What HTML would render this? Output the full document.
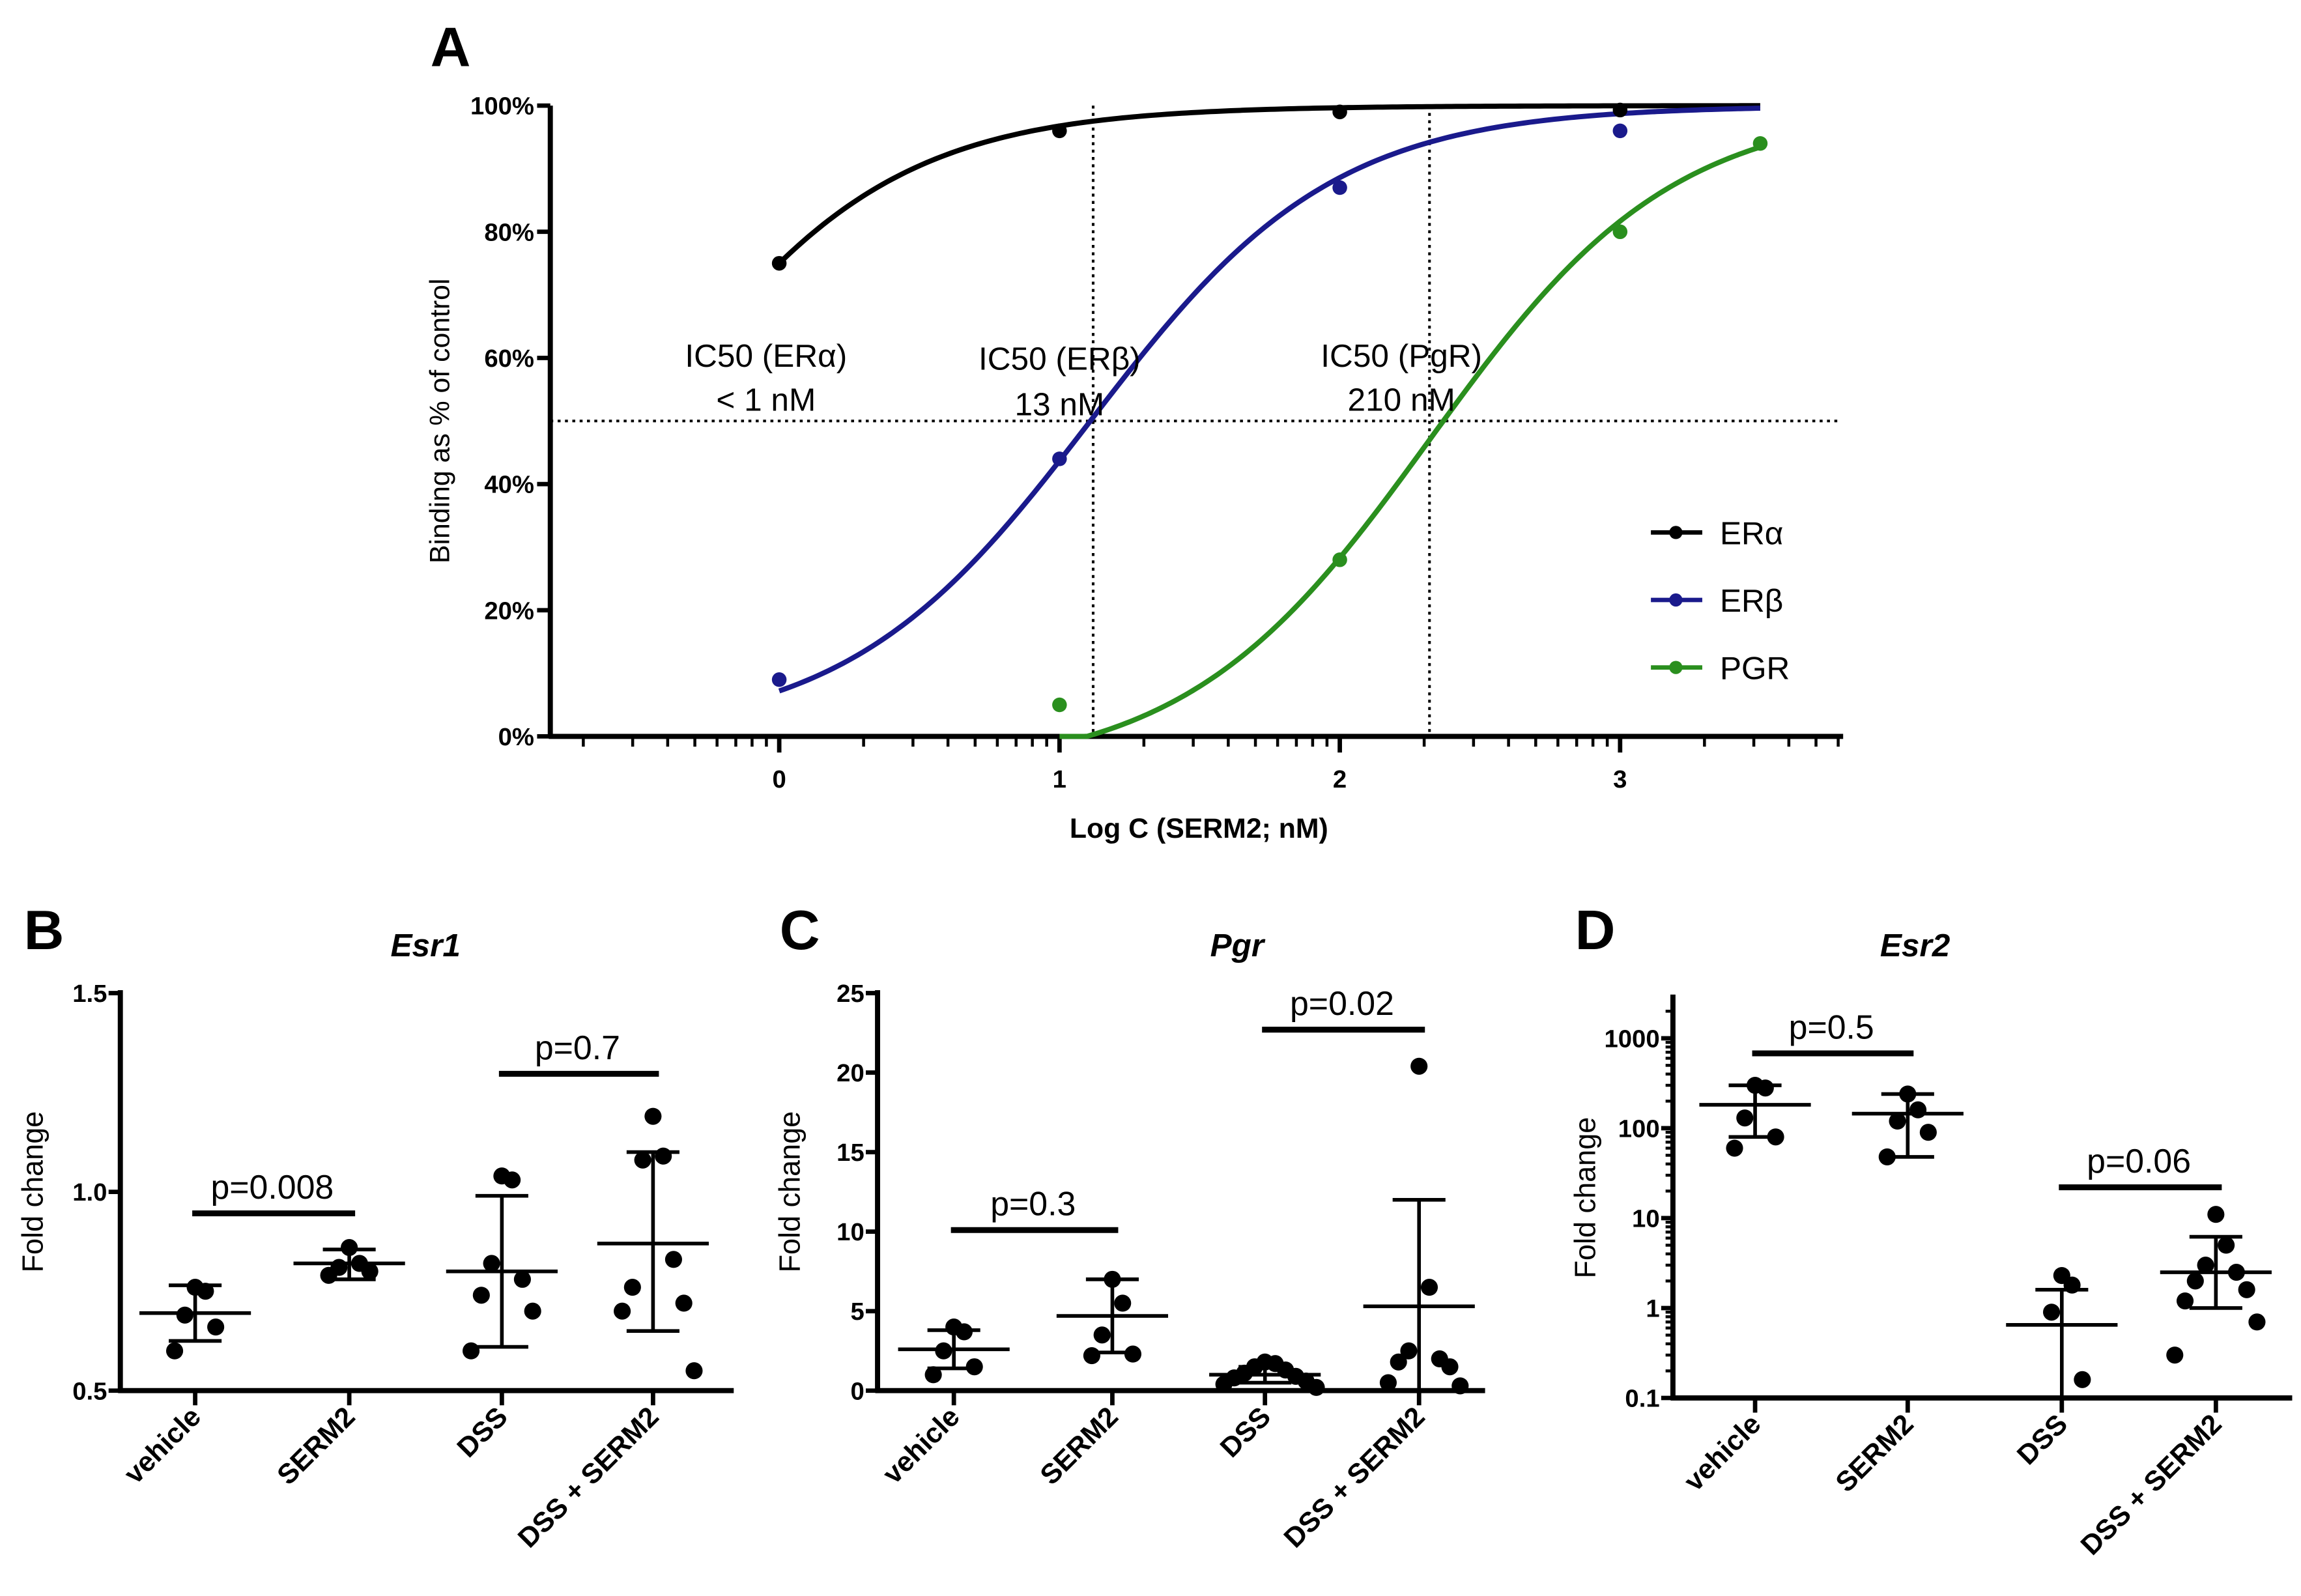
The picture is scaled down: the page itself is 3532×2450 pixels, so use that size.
<!DOCTYPE html>
<html><head><meta charset="utf-8"><style>
html,body{margin:0;padding:0;background:#fff}
svg{display:block}
text{font-family:"Liberation Sans",sans-serif}
</style></head><body>
<svg id="s" width="3532" height="2450" viewBox="0 0 1568 1088" preserveAspectRatio="none" xmlns="http://www.w3.org/2000/svg"></svg>
<script>
// ---------- Panel A data ----------
const aTicksX = [0,1,2,3];
const aTicksY = [0,20,40,60,80,100];
const aTickLabelsY = ["0%","20%","40%","60%","80%","100%"];
const eraPts = [[0,75],[1,96],[2,99],[3,99.3]];
const erbPts = [[0,9],[1,44],[2,87],[3,96]];
const pgrPts = [[1,5],[2,28],[3,80],[3.5,94]];
const eraFit = [-0.477,1,0];   // logIC50, hill, bottom
const erbFit = [1.11,1,0];
const pgrFit = [2.32,1.0,-6];
const ic50Lines = [1.12,2.32];
// ---------- Panel B ----------
const cats = ["vehicle","SERM2","DSS","DSS + SERM2"];
const bPts = [[0.76,0.75,0.69,0.66,0.60],[0.86,0.82,0.81,0.80,0.79],[1.04,1.03,0.82,0.78,0.74,0.70,0.60],[1.19,1.09,1.08,0.83,0.76,0.72,0.70,0.55]];
const bMean = [0.695,0.82,0.80,0.87];
const bSD = [[0.625,0.765],[0.78,0.855],[0.61,0.99],[0.65,1.10]];
const bP = [["p=0.008",0,1,0.946],["p=0.7",2,3,1.297]];
const bTicks = [0.5,1.0,1.5];
const bTickLabels = ["0.5","1.0","1.5"];
// ---------- Panel C ----------
const cPts = [[4.0,3.7,2.5,1.5,1.0],[7.0,5.5,3.5,2.3,2.2],[1.8,1.7,1.5,1.3,1.1,0.9,0.8,0.6,0.4,0.2],[20.4,6.5,2.5,2.0,1.8,1.5,0.5,0.3]];
const cMean = [2.6,4.7,1.0,5.3];
const cSD = [[1.4,3.8],[2.4,7.0],[0.5,1.5],[0,12]];
const cP = [["p=0.3",0,1,10.1],["p=0.02",2,3,22.7]];
const cTicks = [0,5,10,15,20,25];
const cTickLabels = ["0","5","10","15","20","25"];
// ---------- Panel D ----------
const dPts = [[300,280,130,80,60],[240,160,120,90,48],[2.3,1.8,0.9,0.16],[11,5,3,2.5,2,1.6,1.2,0.7,0.3]];
const dMean = [182,145,0.65,2.5];
const dSD = [[80,300],[48,240],[null,1.6],[1.0,6.2]];
const dP = [["p=0.5",0,1,680],["p=0.06",2,3,22]];
const dTicks = [0.1,1,10,100,1000];
const dTickLabels = ["0.1","1","10","100","1000"];

const S = document.getElementById('s');
const NS = "http://www.w3.org/2000/svg";
function mk(tag, at, parent){const e=document.createElementNS(NS,tag);for(const k in at)e.setAttribute(k,at[k]);(parent||S).appendChild(e);return e;}
function line(x1,y1,x2,y2,w,c,name,dash){const e=mk('line',{x1,y1,x2,y2,stroke:c||'#000','stroke-width':w||3});if(dash)e.setAttribute('stroke-dasharray',dash);

return e;}
function txt(x,y,s,size,name,opts){opts=opts||{};const e=mk('text',{x,y,'font-size':size,'text-anchor':opts.anchor||'middle','font-weight':opts.bold?'bold':'normal','font-style':opts.italic?'italic':'normal',fill:opts.fill||'#000'});if(opts.rot)e.setAttribute('transform',opts.rot);e.textContent=s;

return e;}
function dot(x,y,r,c,name){const e=mk('circle',{cx:x,cy:y,r,fill:c});

return e;}

// ===== Panel A =====
const ax = v=>531+v*191, ay = v=>502-v*4.3;
txt(307,45,"A",38,"panel-a-label",{bold:1});
line(375,72,375,503,3.5,'#000','a-y-axis');
line(374,502,1256,502,3.5,'#000','a-x-axis');
aTicksY.forEach((v,i)=>{line(366,ay(v),375,ay(v),3,'#000','a-y-tick');txt(364,ay(v)+6,aTickLabelsY[i],17,'a-y-tick-label',{anchor:'end',bold:1});});
for(let n=-1;n<=3;n++){for(let k=1;k<=9;k++){const v=n+Math.log10(k);const x=ax(v);if(x<376||x>1256)continue;const major=k===1;line(x,502,x,major?513:509,major?3:2,'#000','a-x-minor-tick');}}
aTicksX.forEach(v=>txt(ax(v),537,String(v),17,'a-x-tick-label',{bold:1}));
txt(817,571,"Log C (SERM2; nM)",19,'a-x-title',{bold:1});
txt(306,287,"Binding as % of control",19,'a-y-title',{rot:'rotate(-90 306 287)'});
line(375,ay(50),1255,ay(50),1.8,'#000','ic50-horizontal',"2,3");
ic50Lines.forEach(v=>line(ax(v),72,ax(v),502,1.8,'#000','ic50-vertical',"2,3"));
function hill(f,x){return f[2]+(100-f[2])/(1+Math.pow(10,(f[0]-x)*f[1]));}
function curve(f,x0,x1,c,name){let d='';for(let i=0;i<=200;i++){const x=x0+(x1-x0)*i/200;const y=Math.max(0,hill(f,x));d+=(i?'L':'M')+ax(x).toFixed(2)+','+ay(y).toFixed(2);}const e=mk('path',{d,fill:'none',stroke:c,'stroke-width':3.5});

}
curve(eraFit,0,3.5,'#000','era-curve');
curve(erbFit,0,3.5,'#1a1a8c','erb-curve');
curve(pgrFit,1,3.5,'#2a8f1e','pgr-curve');
eraPts.forEach(p=>dot(ax(p[0]),ay(p[1]),5,'#000','era-point'));
erbPts.forEach(p=>dot(ax(p[0]),ay(p[1]),5,'#1a1a8c','erb-point'));
pgrPts.forEach(p=>dot(ax(p[0]),ay(p[1]),5,'#2a8f1e','pgr-point'));
txt(522,250,"IC50 (ERα)",22,'ic50-era-label');txt(522,280,"< 1 nM",22,'ic50-era-value');
txt(722,252,"IC50 (ERβ)",22,'ic50-erb-label');txt(722,283,"13 nM",22,'ic50-erb-value');
txt(955,250,"IC50 (PgR)",22,'ic50-pgr-label');txt(955,280,"210 nM",22,'ic50-pgr-value');
[["ERα",'#000',363],["ERβ",'#1a1a8c',409],["PGR",'#2a8f1e',455]].forEach(l=>{line(1125,l[2],1160,l[2],3,l[1],'legend-line');dot(1142,l[2],4.5,l[1],'legend-marker');txt(1172,l[2]+8,l[0],22,'legend-entry',{anchor:'start'});});

// ===== Scatter panels =====
function panel(o){
  const {x0,xEnd,top,bot,catX,yf,ticks,labels,pts,mean,sd,pv,title,letter,lx,titleX,minor}=o;
  txt(lx,647,letter,38,'panel-'+letter.toLowerCase()+'-label',{bold:1});
  txt(titleX,652,title,22,'panel-'+letter.toLowerCase()+'-title',{bold:1,italic:1});
  txt(x0-53,(top+bot)/2,"Fold change",20,'y-axis-title',{rot:`rotate(-90 ${x0-53} ${(top+bot)/2})`});
  line(x0,top-2,x0,bot+1.5,3.5,'#000','y-axis');
  line(x0-1.5,bot,xEnd,bot,3.5,'#000','x-axis');
  ticks.forEach((v,i)=>{line(x0-8,yf(v),x0,yf(v),3,'#000','y-tick');txt(x0-9,yf(v)+6,labels[i],17,'y-tick-label',{anchor:'end',bold:1});});
  if(minor)minor.forEach(v=>line(x0-5,yf(v),x0,yf(v),2,'#000','y-minor-tick'));
  catX.forEach((cx,i)=>{line(cx,bot,cx,bot+10,3,'#000','x-tick');txt(cx+5,bot+19,cats[i],19,'category-label',{anchor:'end',bold:1,rot:`rotate(-45 ${cx+5} ${bot+19})`});});
  pts.forEach((arr,i)=>{arr.forEach((v,j)=>{const off=((j%2?1:-1)*Math.ceil(j/2))*7;dot(catX[i]+off,yf(v),5.8,'#000','data-point');});
    line(catX[i]-38,yf(mean[i]),catX[i]+38,yf(mean[i]),2.5,'#000','mean-line');
    const lo=sd[i][0]==null?bot:yf(sd[i][0]);const hi=yf(sd[i][1]);
    line(catX[i],lo,catX[i],hi,2.5,'#000','sd-bar');
    line(catX[i]-18,hi,catX[i]+18,hi,2.5,'#000','sd-cap');
    if(sd[i][0]!=null)line(catX[i]-18,lo,catX[i]+18,lo,2.5,'#000','sd-cap');});
  pv.forEach(p=>{const y=yf(p[3]);line(catX[p[1]]-2,y,catX[p[2]]+4,y,4,'#000','significance-bar');txt((catX[p[1]]+catX[p[2]])/2,y-10,p[0],23,'p-value-label');});
}
panel({x0:82,xEnd:500,top:677,bot:948,catX:[133,238,342,445],yf:v=>948-(v-0.5)*271,ticks:bTicks,labels:bTickLabels,pts:bPts,mean:bMean,sd:bSD,pv:bP,title:"Esr1",letter:"B",lx:30,titleX:290});
panel({x0:598,xEnd:1012,top:677,bot:948,catX:[650,758,862,967],yf:v=>948-v*10.84,ticks:cTicks,labels:cTickLabels,pts:cPts,mean:cMean,sd:cSD,pv:cP,title:"Pgr",letter:"C",lx:545,titleX:843});
const dMinor=[];for(let n=-1;n<=3;n++)for(let k=2;k<=9;k++){if(n===3&&k>2)continue;dMinor.push(k*Math.pow(10,n));}
panel({x0:1140,xEnd:1562,top:680,bot:953,catX:[1196,1300,1405,1510],yf:v=>953-(Math.log10(v)+1)*61.3,ticks:dTicks,labels:dTickLabels,pts:dPts,mean:dMean,sd:dSD,pv:dP,title:"Esr2",letter:"D",lx:1087,titleX:1305,minor:dMinor});
</script>
</body></html>
